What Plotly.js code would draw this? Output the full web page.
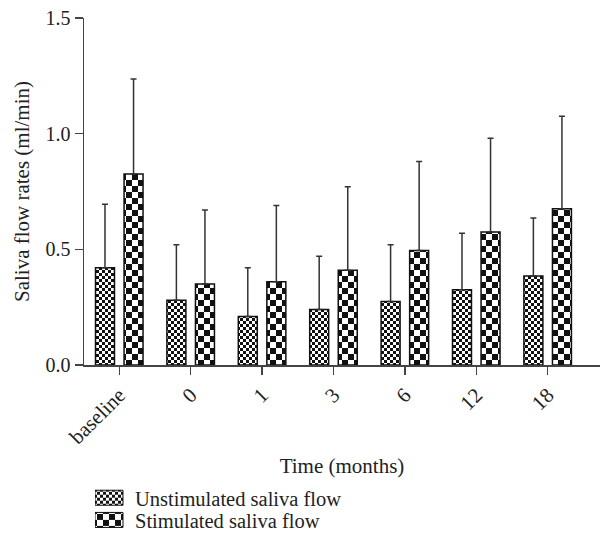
<!DOCTYPE html>
<html>
<head>
<meta charset="utf-8">
<script src="https://cdn.plot.ly/plotly-3.0.1.min.js"></script>
<style>html,body{margin:0;padding:0;background:#fff;}</style>
</head>
<body>
<div id="chart" style="width:601px;height:536px;"></div>
<svg width="0" height="0" style="position:absolute">
  <defs>
    <pattern id="chkSmall" patternUnits="userSpaceOnUse" width="6" height="6">
      <rect x="0" y="0" width="6" height="6" fill="#fff"/>
      <rect x="0" y="0" width="3" height="3" fill="#111"/>
      <rect x="3" y="3" width="3" height="3" fill="#111"/>
    </pattern>
    <pattern id="chkLarge" patternUnits="userSpaceOnUse" width="12" height="12">
      <rect x="0" y="0" width="12" height="12" fill="#fff"/>
      <rect x="0" y="0" width="6" height="6" fill="#111"/>
      <rect x="6" y="6" width="6" height="6" fill="#111"/>
    </pattern>
  </defs>
</svg>
<script>
const categories = ["baseline", "0", "1", "3", "6", "12", "18"];
const unstimMean = [0.42, 0.28, 0.21, 0.24, 0.275, 0.325, 0.385];
const unstimSD   = [0.275, 0.24, 0.21, 0.23, 0.245, 0.245, 0.25];
const stimMean   = [0.826, 0.35, 0.36, 0.41, 0.495, 0.575, 0.675];
const stimSD     = [0.41, 0.32, 0.33, 0.36, 0.385, 0.405, 0.40];
const seriesNames = ["Unstimulated saliva flow", "Stimulated saliva flow"];

const zeros = categories.map(() => 0);
const FAM = "Liberation Serif, Times New Roman, serif";

function barTrace(name, y, sd, legendId) {
  return {
    type: "bar", name: name, x: categories, y: y, legend: legendId,
    marker: {color: "#fff", line: {color: "#111", width: 1.5}},
    error_y: {type: "data", array: sd, arrayminus: zeros, symmetric: false,
              color: "#333", thickness: 1.5, width: 3},
    hoverinfo: "skip"
  };
}

const data = [barTrace(seriesNames[0], unstimMean, unstimSD, "legend"),
              barTrace(seriesNames[1], stimMean, stimSD, "legend2")];

const legFont = {family: FAM, size: 20.5, color: "#222"};
const layout = {
  width: 601, height: 536,
  margin: {l: 84, r: 1, t: 18, b: 171, autoexpand: false},
  paper_bgcolor: "#fff", plot_bgcolor: "#fff",
  font: {family: FAM, size: 20, color: "#222"},
  barmode: "group", bargap: 0.2, bargroupgap: 0.335,
  showlegend: true,
  legend:  {x: 0.0213, xanchor: "left", y: -0.383, yanchor: "middle", font: legFont, itemclick: false, bgcolor: "rgba(0,0,0,0)"},
  legend2: {x: 0.0213, xanchor: "left", y: -0.447, yanchor: "middle", font: legFont, itemclick: false, bgcolor: "rgba(0,0,0,0)"},
  xaxis: {
    type: "category", range: [-0.494, 6.733],
    showline: true, linecolor: "#444", linewidth: 1.5,
    ticks: "outside", ticklen: 8, tickcolor: "#444", tickwidth: 1.5,
    tickangle: -45, showgrid: false, zeroline: false,
    tickfont: {family: FAM, size: 21, color: "#222"},
    title: {text: "Time (months)", font: {family: FAM, size: 21, color: "#222"}, standoff: 10}
  },
  yaxis: {
    range: [0, 1.5], tickvals: [0, 0.5, 1.0, 1.5], ticktext: ["0.0", "0.5", "1.0", "1.5"],
    showline: true, linecolor: "#444", linewidth: 1.5,
    ticks: "outside", ticklen: 8, tickcolor: "#444", tickwidth: 1.5,
    showgrid: false, zeroline: false,
    tickfont: {family: FAM, size: 20, color: "#222"},
    title: {text: "Saliva flow rates (ml/min)", font: {family: FAM, size: 21, color: "#222"}, standoff: 10}
  }
};

Plotly.newPlot("chart", data, layout, {displayModeBar: false, staticPlot: true}).then(function () {
  const ids = ["chkSmall", "chkLarge"];
  document.querySelectorAll("#chart g.trace.bars").forEach(function (g, i) {
    g.querySelectorAll("g.point path").forEach(function (p) {
      p.style.fill = "url(#" + ids[i] + ")";
      p.style.fillOpacity = 1;
    });
  });
  const legIds = ["legend", "legend2"];
  legIds.forEach(function (cls, i) {
    document.querySelectorAll("#chart g.infolayer g." + cls + " g.legendpoints path").forEach(function (p) {
      p.setAttribute("d", "M8,7.5H-20V-7.5H8Z");
      p.style.fill = "url(#" + ids[i] + ")";
      p.style.fillOpacity = 1;
      p.style.stroke = "#111";
      p.style.strokeWidth = "1px";
    });
  });
});
</script>
</body>
</html>
